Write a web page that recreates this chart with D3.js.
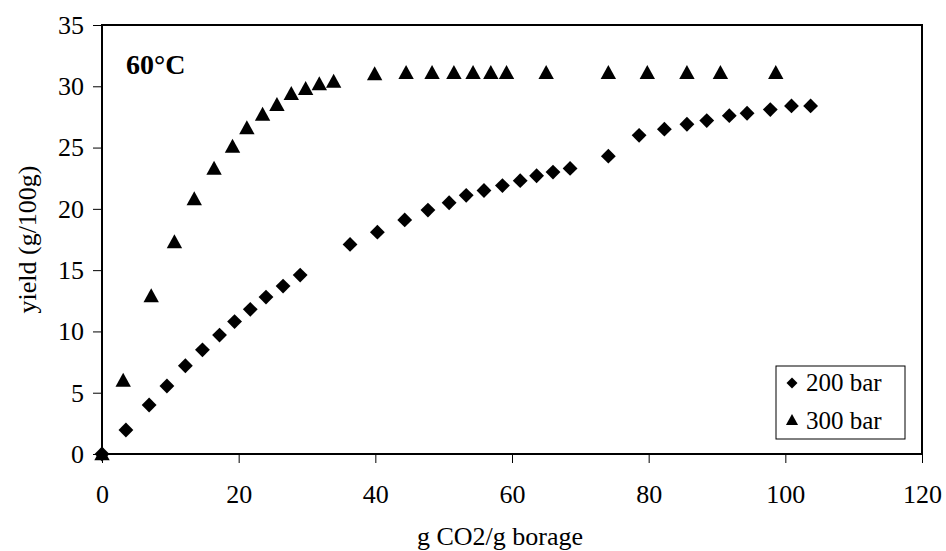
<!DOCTYPE html>
<html>
<head>
<meta charset="utf-8">
<script src="https://cdn.jsdelivr.net/npm/d3@7"></script>
<style>
  body { margin: 0; background: #fff; }
</style>
</head>
<body>
<div id="chart"></div>
<script>
// 200 bar series
const x200 = [0, 3.5, 6.9, 9.5, 12.2, 14.7, 17.2, 19.4, 21.7, 24.0, 26.5, 29.0, 36.3, 40.3, 44.3, 47.7, 50.8, 53.3, 55.9, 58.6, 61.2, 63.6, 66.0, 68.5, 74.1, 78.6, 82.3, 85.6, 88.5, 91.8, 94.4, 97.8, 100.9, 103.7];
const y200 = [0, 1.96, 4.0, 5.55, 7.2, 8.5, 9.7, 10.8, 11.8, 12.8, 13.7, 14.6, 17.1, 18.1, 19.1, 19.9, 20.5, 21.1, 21.5, 21.9, 22.3, 22.7, 23.0, 23.3, 24.3, 26.0, 26.5, 26.9, 27.2, 27.6, 27.8, 28.1, 28.4, 28.4];
// 300 bar series
const x300 = [0, 3.1, 7.2, 10.6, 13.5, 16.4, 19.1, 21.2, 23.5, 25.6, 27.7, 29.8, 31.8, 33.9, 39.9, 44.5, 48.3, 51.5, 54.3, 56.9, 59.2, 65.0, 74.1, 79.8, 85.6, 90.5, 98.6];
const y300 = [0, 6.0, 12.9, 17.3, 20.8, 23.3, 25.1, 26.6, 27.7, 28.5, 29.4, 29.8, 30.2, 30.4, 31.0, 31.1, 31.1, 31.1, 31.1, 31.1, 31.1, 31.1, 31.1, 31.1, 31.1, 31.1, 31.1];
const xTicks = [0, 20, 40, 60, 80, 100, 120];
const yTicks = [0, 5, 10, 15, 20, 25, 30, 35];
const seriesNames = ["200 bar", "300 bar"];

const width = 946, height = 551;
const plot = { left: 102, right: 922, top: 25, bottom: 454 };
const serif = "'Liberation Serif', Tinos, 'Times New Roman', 'DejaVu Serif', serif";

const svg = d3.select("#chart").append("svg")
  .attr("width", width)
  .attr("height", height)
  .attr("font-family", serif);

svg.append("rect").attr("width", width).attr("height", height).attr("fill", "#fff");

const x = d3.scaleLinear().domain([0, 120]).range([plot.left, plot.right]);
const y = d3.scaleLinear().domain([0, 35]).range([plot.bottom, plot.top]);

// axes
const xAxis = svg.append("g")
  .attr("transform", `translate(0,${plot.bottom})`)
  .call(d3.axisBottom(x).tickValues(xTicks).tickSize(9).tickPadding(22).tickFormat(d3.format("d")));
const yAxis = svg.append("g")
  .attr("transform", `translate(${plot.left},0)`)
  .call(d3.axisLeft(y).tickValues(yTicks).tickSize(9).tickPadding(9).tickFormat(d3.format("d")));

[xAxis, yAxis].forEach((g) => {
  g.attr("font-family", serif).attr("font-size", 26);
  g.select(".domain").remove();
  g.selectAll(".tick line").attr("stroke", "#000").attr("stroke-width", 1);
  g.selectAll(".tick text").attr("fill", "#000");
});

// plot border
svg.append("rect")
  .attr("x", plot.left).attr("y", plot.top)
  .attr("width", plot.right - plot.left).attr("height", plot.bottom - plot.top)
  .attr("fill", "none").attr("stroke", "#000").attr("stroke-width", 2);

const diamond = d3.symbol().type(d3.symbolSquare).size(110);
const triangle = (s) => `M0,${-s * 0.55}L${s * 0.55},${s * 0.45}L${-s * 0.55},${s * 0.45}Z`;

// points
svg.append("g").selectAll("path")
  .data(x200.map((v, i) => [v, y200[i]]))
  .join("path")
  .attr("d", diamond)
  .attr("transform", (d) => `translate(${x(d[0])},${y(d[1])}) rotate(45)`)
  .attr("fill", "#000");

svg.append("g").selectAll("path")
  .data(x300.map((v, i) => [v, y300[i]]))
  .join("path")
  .attr("d", triangle(14))
  .attr("transform", (d) => `translate(${x(d[0])},${y(d[1])})`)
  .attr("fill", "#000");

// axis titles
svg.append("text")
  .attr("x", 500).attr("y", 545)
  .attr("text-anchor", "middle")
  .attr("font-size", 26)
  .text("g CO2/g borage");

svg.append("text")
  .attr("transform", `translate(36,${(plot.top + plot.bottom) / 2}) rotate(-90)`)
  .attr("text-anchor", "middle")
  .attr("font-size", 26)
  .text("yield (g/100g)");

svg.append("text")
  .attr("x", 126).attr("y", 74)
  .attr("font-size", 28)
  .attr("font-weight", "bold")
  .text("60°C");

// legend
const legend = svg.append("g").attr("transform", "translate(776,366)");
legend.append("rect")
  .attr("width", 129).attr("height", 73)
  .attr("fill", "#fff").attr("stroke", "#000").attr("stroke-width", 1);
legend.append("path")
  .attr("d", d3.symbol().type(d3.symbolSquare).size(60))
  .attr("transform", "translate(16,17) rotate(45)");
legend.append("path")
  .attr("d", triangle(11))
  .attr("transform", "translate(16,54)");
legend.selectAll("text.lab")
  .data(seriesNames)
  .join("text")
  .attr("class", "lab")
  .attr("x", 30)
  .attr("y", (d, i) => 25 + i * 38)
  .attr("font-size", 25)
  .text((d) => d);
</script>
</body>
</html>
